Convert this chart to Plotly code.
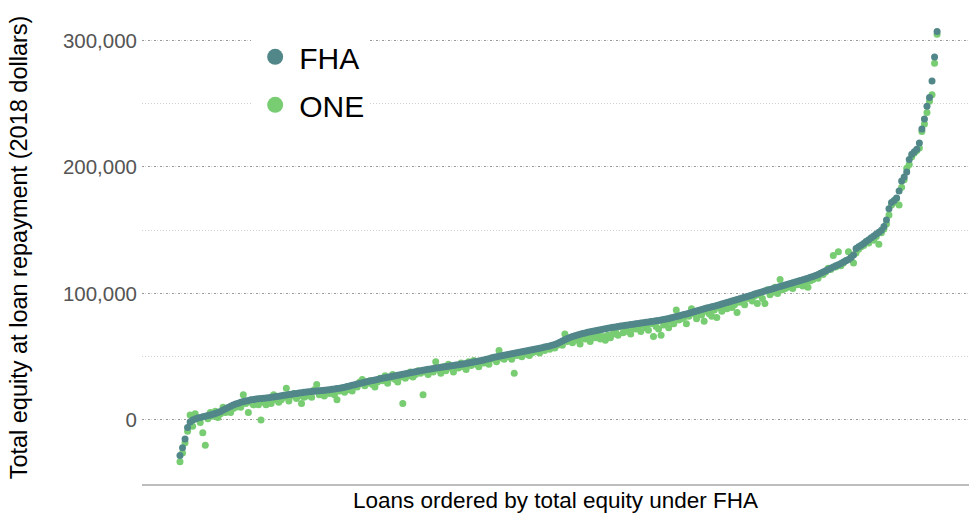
import plotly.graph_objects as go

# Total equity at loan repayment, thousands of 2018 dollars, loans ordered by FHA equity
fha_k = [
    -28, -22, -15, -6, -1.5, 0, 0.8, 1.5, 2.0, 2.6,
    3.0, 3.5, 4.0, 4.5, 5.2, 6.0, 6.8, 7.8, 8.8, 9.8,
    10.8, 11.8, 12.6, 13.3, 14.0, 14.6, 15.1, 15.5, 15.9, 16.2,
    16.5, 16.7, 16.9, 17.1, 17.3, 17.6, 17.9, 18.2, 18.5, 18.8,
    19.1, 19.5, 19.8, 20.1, 20.4, 20.7, 21.0, 21.3, 21.6, 21.9,
    22.1, 22.3, 22.5, 22.7, 22.9, 23.1, 23.3, 23.5, 23.8, 24.0,
    24.2, 24.5, 24.8, 25.1, 25.5, 25.9, 26.4, 26.9, 27.4, 27.9,
    28.4, 28.9, 29.4, 29.9, 30.4, 30.9, 31.3, 31.7, 32.1, 32.5,
    32.9, 33.3, 33.7, 34.1, 34.5, 34.9, 35.3, 35.7, 36.1, 36.5,
    36.9, 37.3, 37.7, 38.1, 38.5, 38.9, 39.3, 39.7, 40.1, 40.4,
    40.7, 41.0, 41.3, 41.6, 41.9, 42.2, 42.5, 42.8, 43.1, 43.4,
    43.7, 44.0, 44.3, 44.7, 45.1, 45.5, 45.9, 46.3, 46.7, 47.1,
    47.5, 48.0, 48.5, 49.0, 49.5, 50.0, 50.4, 50.8, 51.2, 51.6,
    52.0, 52.4, 52.8, 53.2, 53.6, 54.0, 54.4, 54.8, 55.2, 55.6,
    56.0, 56.4, 56.8, 57.2, 57.6, 58.0, 58.5, 59.0, 59.7, 60.5,
    61.5, 62.5, 63.5, 64.5, 65.3, 66.0, 66.6, 67.2, 67.8, 68.3,
    68.8, 69.3, 69.8, 70.2, 70.6, 71.0, 71.4, 71.8, 72.2, 72.6,
    73.0, 73.3, 73.6, 73.9, 74.2, 74.5, 74.8, 75.1, 75.4, 75.7,
    76.0, 76.3, 76.6, 76.9, 77.2, 77.5, 77.8, 78.1, 78.4, 78.7,
    79.0, 79.4, 79.8, 80.3, 80.8, 81.3, 81.8, 82.3, 82.8, 83.3,
    83.8, 84.4, 85.0, 85.6, 86.2, 86.8, 87.4, 88.0, 88.5, 89.0,
    89.5, 90.0, 90.5, 91.1, 91.7, 92.3, 92.9, 93.5, 94.1, 94.7,
    95.3, 95.9, 96.5, 97.1, 97.7, 98.3, 98.9, 99.5, 100.1, 100.7,
    101.3, 101.9, 102.5, 103.1, 103.7, 104.3, 104.9, 105.5, 106.1, 106.7,
    107.3, 107.9, 108.5, 109.1, 109.7, 110.3, 110.9, 111.5, 112.1, 112.8,
    113.5, 114.3, 115.1, 116.0, 117.0, 118.0, 119.0, 120.0, 121.0, 122.0,
    122.8, 123.8, 124.8, 125.8, 126.8, 128.5, 130.5, 135.5, 137.0, 138.2,
    139.5, 141.0, 142.5, 144.0, 145.5, 147.0, 148.5, 150.0, 153.0, 158.0,
    167.0, 172.0, 173.5, 175.5, 181.0, 189.0, 192.0, 196.0, 206.0, 210.0,
    212.0, 214.0, 219.0, 230.0, 238.0, 248.0, 255.0, 268.0, 287.0, 307.0,
]

one_k = [
    -33, -26, -18, -9, 4, -5, 5, 1, -2, -10,
    -20, 1, 6, 3, 7, 2, 5, 10, 6, 8,
    6, 9, 10, 12, 10, 20, 13, 6, 14, 12,
    15, 12, 0, 14, 12, 17, 13, 20, 16, 14,
    16, 18, 25, 15, 19, 21, 17, 19, 13, 18,
    19, 21, 18, 24, 28, 20, 22, 19, 23, 21,
    22, 20, 16, 23, 25, 22, 26, 24, 23, 27,
    26, 30, 32, 27, 29, 31, 28, 26, 30, 33,
    31, 35, 29, 33, 36, 32, 30, 34, 13, 33,
    35, 38, 34, 36, 39, 37, 20, 38, 36, 39,
    38, 46, 40, 37, 42, 39, 44, 41, 38, 42,
    41, 45, 42, 40, 46, 43, 47, 44, 42, 46,
    45, 47, 44, 49, 48, 46, 55, 49, 48, 50,
    50, 48, 37, 51, 53, 50, 54, 52, 51, 53,
    54, 55, 53, 56, 55, 57, 56, 58, 57, 59,
    60, 59, 68, 62, 63, 61, 64, 63, 60, 65,
    64, 66, 62, 67, 65, 68, 64, 66, 63, 67,
    65, 68, 70, 67, 74, 69, 72, 70, 68, 73,
    72, 74, 70, 75, 73, 71, 76, 66, 74, 72,
    67, 75, 77, 73, 78, 76, 87, 79, 80, 81,
    76, 82, 88, 84, 80, 85, 83, 78, 86, 84,
    82, 87, 81, 89, 86, 90, 88, 92, 89, 91,
    85, 93, 95, 91, 96, 97, 94, 98, 92, 99,
    96, 92, 103, 99, 101, 105, 100, 111, 103, 104,
    105, 106, 104, 108, 107, 110, 106, 109, 105, 110,
    111, 113, 112, 116, 115, 117, 120, 119, 130, 121,
    133, 122, 124, 126, 133, 127, 124, 132, 135, 137,
    138, 141, 140, 143, 142, 145, 139, 148, 151, 155,
    162, 170, 172, 175, 170, 184, 190, 199, 202, 208,
    211, 213, 215, 228, 234, 243, 252, 257, 282, 305,
]

series_names = ["FHA", "ONE"]
y_ticks = [0, 100000, 200000, 300000]

FHA_COLOR = "#52878a"
ONE_COLOR = "#78cc72"

rank = list(range(len(fha_k)))
fha = [v * 1000 for v in fha_k]
one = [v * 1000 for v in one_k]

fig = go.Figure()
fig.add_trace(go.Scatter(x=rank, y=one, mode="markers", name="ONE", showlegend=False,
                         marker=dict(color=ONE_COLOR, size=7, line=dict(width=0))))
fig.add_trace(go.Scatter(x=rank, y=fha, mode="markers", name="FHA", showlegend=False,
                         marker=dict(color=FHA_COLOR, size=7, line=dict(width=0))))
# legend entries
fig.add_trace(go.Scatter(x=[None], y=[None], mode="markers", name=series_names[0], legendgroup="a",
                         marker=dict(color=FHA_COLOR, size=16)))
fig.add_trace(go.Scatter(x=[None], y=[None], mode="markers", name=series_names[1], legendgroup="b",
                         marker=dict(color=ONE_COLOR, size=16)))

n = len(fha_k)
fig.update_layout(
    width=969, height=515,
    margin=dict(l=142, r=0, t=11, b=31),
    paper_bgcolor="white", plot_bgcolor="white",
    font=dict(family="Liberation Sans, Arial, sans-serif", color="#000000"),
    showlegend=True,
    legend=dict(x=0.132, y=0.958, xanchor="left", yanchor="top",
                bgcolor="white", font=dict(size=30, color="#000000"),
                tracegroupgap=6, itemwidth=38),
    xaxis=dict(range=[-15.0, (n - 1) * 311.6 / 299], showgrid=False, zeroline=False,
               showticklabels=False, ticks="", showline=True, linecolor="#bdbdbd", linewidth=1.5,
               title=dict(text="Loans ordered by total equity under FHA",
                          font=dict(size=22.5, color="#000000"), standoff=7)),
    yaxis=dict(range=[-50600, 323300], tickvals=y_ticks, tickformat=",d",
               showgrid=True, gridcolor="#9a9a9a", gridwidth=1.2, griddash="2px,4px",
               minor=dict(dtick=50000, tick0=0, showgrid=True, gridcolor="#cfcfcf",
                          gridwidth=1, griddash="1px,2px"),
               zeroline=False, showline=False, ticks="", ticklabelstandoff=4,
               tickfont=dict(size=20.5, color="#555555"),
               title=dict(text="Total equity at loan repayment (2018 dollars)",
                          font=dict(size=23.5, color="#000000"), standoff=28)),
)

fig.write_html("out.html", config={"displayModeBar": False},
               post_script="document.body.style.margin='0';document.body.style.overflow='hidden';")
